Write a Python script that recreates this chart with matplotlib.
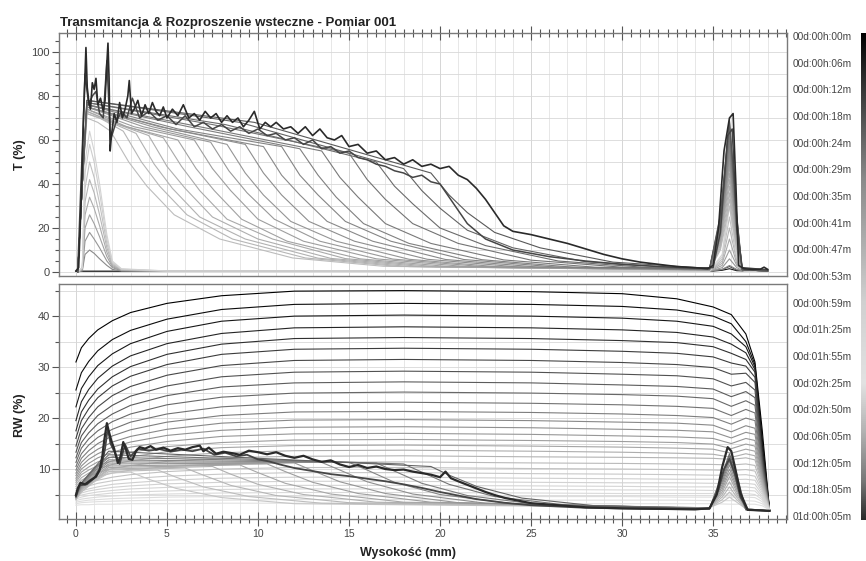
import numpy as np
import matplotlib
matplotlib.use('Agg')
import matplotlib.pyplot as plt
from matplotlib.colors import LinearSegmentedColormap
from matplotlib.ticker import MultipleLocator

plt.rcParams['font.family'] = ['Liberation Sans', 'DejaVu Sans']

# ---------------- data ----------------
time_labels = ['00d:00h:00m', '00d:00h:06m', '00d:00h:12m', '00d:00h:18m', '00d:00h:24m',
               '00d:00h:29m', '00d:00h:35m', '00d:00h:41m', '00d:00h:47m', '00d:00h:53m',
               '00d:00h:59m', '00d:01h:25m', '00d:01h:55m', '00d:02h:25m', '00d:02h:50m',
               '00d:06h:05m', '00d:12h:05m', '00d:18h:05m', '01d:00h:05m']

# T (%) - early flat scans
t_flat_x = [0, 34.8, 35.5, 35.9, 36.3, 38]
t_flat_y = [[0.3, 0.3, 0.8, 1.5, 0.6, 0.3],
            [0.4, 0.4, 1.2, 2.5, 0.9, 0.3]]

# T (%) - light narrow peaks at the bottom of the cell
t_low_x = [0.1, 0.35, 0.5, 0.75, 1.0, 1.3, 1.7, 2.0, 2.5, 5, 34.8, 35.5, 35.9, 36.3, 36.7, 38]
t_low_y = [[0, 0.5, 8, 10, 8.5, 6, 3, 1.2, 0.5, 0.3, 0.3, 1.2, 3, 1.2, 0.3, 0.3],
           [0, 1, 14, 18, 15, 11, 5, 2, 0.6, 0.3, 0.3, 2, 6, 2, 0.3, 0.3],
           [0, 1, 20, 26, 22, 16, 7, 2.5, 0.8, 0.3, 0.3, 3, 10, 3, 0.4, 0.3],
           [0, 1.5, 26, 34, 29, 21, 9, 3, 0.9, 0.4, 0.4, 4, 15, 4, 0.4, 0.3],
           [0, 1.5, 32, 42, 36, 26, 11, 3.5, 1, 0.4, 0.4, 5, 20, 5, 0.5, 0.3],
           [0, 2, 38, 50, 43, 31, 13, 4, 1.2, 0.4, 0.4, 6, 25, 6, 0.5, 0.3],
           [0, 2, 45, 58, 50, 36, 15, 4.5, 1.3, 0.5, 0.5, 7, 30, 7, 0.5, 0.3],
           [0, 2, 50, 64, 55, 40, 17, 5, 1.5, 0.5, 0.5, 8, 35, 8, 0.5, 0.3]]

# T (%) - clarification fronts moving up the cell
t_front_x = [
    [0.1, 0.35, 0.6, 1.2, 1.9, 2.9, 3.9, 5.4, 7.9, 11.9, 16.9, 34.8, 35.4, 35.9, 36.3, 36.6, 38],
    [0.1, 0.35, 0.6, 1.3, 2.6, 3.6, 4.6, 6.1, 8.6, 12.6, 17.6, 34.8, 35.4, 35.9, 36.3, 36.6, 38],
    [0.1, 0.35, 0.6, 1.6, 3.3, 4.3, 5.3, 6.8, 9.3, 13.3, 18.3, 34.8, 35.4, 35.9, 36.3, 36.6, 38],
    [0.1, 0.35, 0.6, 2.0, 4.0, 5.0, 6.0, 7.5, 10.0, 14.0, 19.0, 34.8, 35.4, 35.9, 36.3, 36.6, 38],
    [0.1, 0.35, 0.6, 2.4, 4.8, 5.8, 6.8, 8.3, 10.8, 14.8, 19.8, 34.8, 35.4, 35.9, 36.3, 36.6, 38],
    [0.1, 0.35, 0.6, 2.8, 5.6, 6.6, 7.6, 9.1, 11.6, 15.6, 20.6, 34.8, 35.4, 35.9, 36.3, 36.6, 38],
    [0.1, 0.35, 0.6, 3.2, 6.5, 7.5, 8.5, 10.0, 12.5, 16.5, 21.5, 34.8, 35.4, 35.9, 36.3, 36.6, 38],
    [0.1, 0.35, 0.6, 3.7, 7.4, 8.4, 9.4, 10.9, 13.4, 17.4, 22.4, 34.8, 35.4, 35.9, 36.3, 36.6, 38],
    [0.1, 0.35, 0.6, 4.2, 8.3, 9.3, 10.3, 11.8, 14.3, 18.3, 23.3, 34.8, 35.4, 35.9, 36.3, 36.6, 38],
    [0.1, 0.35, 0.6, 4.6, 9.3, 10.3, 11.3, 12.8, 15.3, 19.3, 24.3, 34.8, 35.4, 35.9, 36.3, 36.6, 38],
    [0.1, 0.35, 0.6, 5.2, 10.3, 11.3, 12.3, 13.8, 16.3, 20.3, 25.3, 34.8, 35.4, 35.9, 36.3, 36.6, 38],
    [0.1, 0.35, 0.6, 5.6, 11.3, 12.3, 13.3, 14.8, 17.3, 21.3, 26.3, 34.8, 35.4, 35.9, 36.3, 36.6, 38],
    [0.1, 0.35, 0.6, 6.2, 12.3, 13.3, 14.3, 15.8, 18.3, 22.3, 27.3, 34.8, 35.4, 35.9, 36.3, 36.6, 38],
    [0.1, 0.35, 0.6, 6.8, 13.5, 14.5, 15.5, 17.0, 19.5, 23.5, 28.5, 34.8, 35.4, 35.9, 36.3, 36.6, 38],
    [0.1, 0.35, 0.6, 7.5, 15.0, 16.0, 17.0, 18.5, 21.0, 25.0, 30.0, 34.8, 35.4, 35.9, 36.3, 36.6, 38],
    [0.1, 0.35, 0.6, 8.2, 16.5, 17.5, 18.5, 20.0, 22.5, 26.5, 31.5, 34.8, 35.4, 35.9, 36.3, 36.6, 38],
    [0.1, 0.35, 0.6, 9.0, 18.0, 19.0, 20.0, 21.5, 24.0, 28.0, 33.0, 34.8, 35.4, 35.9, 36.3, 36.6, 38],
    [0.1, 0.35, 0.6, 9.8, 19.5, 20.5, 21.5, 23.0, 25.5, 29.5, 34.5, 34.8, 35.4, 35.9, 36.3, 36.6, 38]]
t_front_y = [
    [0, 40, 70, 68, 64, 50, 39, 26, 15, 6.4, 2.6, 0.8, 10, 30, 10, 1, 0.5],
    [0, 40, 72, 70, 64, 50, 39, 26, 15, 6.4, 2.6, 0.8, 11, 33, 11, 1, 0.5],
    [0, 40, 72, 69, 63, 49, 38, 25, 15, 6.3, 2.5, 0.9, 12, 36, 12, 1, 0.5],
    [0, 40, 73, 68, 62, 48, 38, 25, 15, 6.2, 2.5, 0.9, 13, 39, 13, 1, 0.5],
    [0, 40, 73, 67, 61, 48, 37, 24, 15, 6.1, 2.4, 1.0, 14, 42, 14, 1, 0.5],
    [0, 40, 74, 66, 60, 47, 37, 24, 14, 6.0, 2.4, 1.0, 15, 45, 15, 1, 0.5],
    [0, 40, 74, 66, 60, 47, 37, 24, 14, 6.0, 2.4, 1.0, 16, 48, 16, 1, 0.5],
    [0, 40, 75, 66, 59, 46, 36, 24, 14, 5.9, 2.4, 1.0, 17, 50, 17, 1, 0.5],
    [0, 40, 75, 66, 58, 45, 35, 23, 14, 5.8, 2.3, 1.1, 18, 52, 18, 1, 0.5],
    [0, 40, 75, 66, 58, 45, 35, 23, 14, 5.8, 2.3, 1.1, 18, 54, 18, 1, 0.5],
    [0, 40, 75, 65, 57, 44, 35, 23, 14, 5.7, 2.3, 1.2, 19, 56, 19, 1, 0.5],
    [0, 40, 76, 65, 57, 44, 35, 23, 14, 5.7, 2.3, 1.2, 20, 58, 20, 1, 0.5],
    [0, 40, 76, 66, 56, 44, 34, 22, 13, 5.6, 2.2, 1.2, 21, 60, 21, 1, 0.5],
    [0, 40, 76, 66, 55, 43, 34, 22, 13, 5.5, 2.2, 1.2, 22, 62, 22, 1, 0.5],
    [0, 40, 77, 67, 54, 42, 33, 22, 13, 5.4, 2.2, 1.3, 23, 64, 23, 1, 0.5],
    [0, 40, 77, 67, 50, 39, 31, 20, 12, 5.0, 2.0, 1.3, 24, 66, 24, 1, 0.5],
    [0, 40, 78, 68, 47, 37, 29, 19, 11, 4.7, 1.9, 1.4, 25, 68, 25, 1, 0.5],
    [0, 40, 78, 68, 45, 35, 27, 18, 11, 4.5, 1.8, 1.5, 26, 69, 26, 1, 0.5]]

# T (%) - last two (noisy) scans
t_late2_x = [0.1, 0.3, 0.5, 0.7, 0.9, 1.1, 1.3, 1.5, 1.7, 1.9,
             2.2, 2.5, 2.8, 3.1, 3.5, 4.0, 4.5, 5.0, 5.5, 6.0,
             6.5, 7.0, 7.5, 8.0, 8.5, 9.0, 9.5, 10.0, 10.5, 11.0,
             11.5, 12.0, 12.5, 13.0, 13.5, 14.0, 14.5, 15.0, 15.5, 16.0,
             16.5, 17.0, 17.5, 18.0, 18.5, 19.0, 19.5, 20.0, 20.5, 21.0,
             21.5, 22.5, 24.0, 26.0, 28.0, 30.0, 32.0, 34.0, 35.0, 35.4,
             35.8, 36.05, 36.3, 36.6, 38.0]
t_late2_y = [1, 45, 90, 76, 80, 82, 72, 70, 96, 60,
             68, 73, 70, 79, 70, 73, 69, 71, 67, 71,
             66, 68, 65, 67, 64, 66, 63, 65, 62, 63,
             60, 61, 58, 60, 56, 57, 54, 55, 52, 51,
             49, 48, 46, 45, 43, 44, 41, 40, 34, 28,
             22, 15, 10, 7, 5, 3.5, 2.5, 1.8, 2, 18,
             62, 65, 20, 2, 1]
t_last_x = [0.0, 0.15, 0.3, 0.42, 0.5, 0.55, 0.62, 0.7, 0.8, 0.9,
            1.0, 1.1, 1.2, 1.35, 1.5, 1.6, 1.7, 1.76, 1.82, 1.88,
            1.95, 2.1, 2.25, 2.4, 2.55, 2.7, 2.85, 2.93, 3.05, 3.2,
            3.4, 3.6, 3.8, 4.0, 4.2, 4.4, 4.6, 4.8, 5.0, 5.3,
            5.6, 5.9, 6.2, 6.5, 6.8, 7.1, 7.4, 7.7, 8.0, 8.3,
            8.6, 8.9, 9.2, 9.5, 9.8, 10.1, 10.4, 10.7, 11.0, 11.4,
            11.8, 12.2, 12.6, 13.0, 13.4, 13.8, 14.2, 14.6, 15.0, 15.5,
            16.0, 16.5, 17.0, 17.5, 18.0, 18.5, 19.0, 19.5, 20.0, 20.5,
            21.0, 21.5, 22.0, 22.5, 23.0, 23.5, 24.0, 25.0, 26.0, 27.0,
            28.0, 29.0, 30.0, 31.0, 32.0, 33.0, 34.0, 34.7, 35.0, 35.3,
            35.6, 35.9, 36.1, 36.25, 36.4, 36.7, 37.2, 37.6, 37.8, 38.0]
t_last_y = [0.5, 2, 35, 70, 90, 102, 84, 78, 74, 86,
            83, 88, 76, 79, 73, 78, 95, 104, 88, 55,
            62, 72, 68, 77, 70, 74, 80, 87, 72, 74,
            78, 71, 76, 72, 77, 73, 71, 75, 70, 74,
            71, 76, 70, 72, 69, 73, 70, 72, 68, 71,
            68, 70, 66, 69, 73, 65, 68, 66, 68, 65,
            66, 63, 66, 62, 65, 61, 60, 62, 57, 58,
            54, 55, 51, 52, 49, 51, 48, 49, 47, 48,
            44, 42, 38, 33, 27, 21, 18.5, 17, 15, 13,
            10.5, 8, 6, 4.5, 3.5, 2.5, 2, 1.5, 3, 20,
            55, 70, 72, 40, 3, 1.5, 1.2, 1.3, 2.2, 1.2]

# RW (%) - backscattering decreasing with time, common height grid
rw_x = [0, 0.3, 0.7, 1.2, 2, 3, 5, 8, 12, 18, 25, 30, 33, 35, 36.0, 36.8, 37.3, 37.7, 38.1]
rw_rows = [
    [31, 33.8, 35.6, 37.3, 39.1, 40.7, 42.5, 44.0, 44.9, 45.0, 44.8, 44.4, 43.4, 41.8, 40.3, 36.5, 31, 17.6, 2],
    [25.5, 28.9, 31.1, 33.2, 35.4, 37.2, 39.4, 41.3, 42.3, 42.5, 42.3, 41.9, 41.2, 40, 38.5, 35, 30.5, 16, 2],
    [22.2, 25.8, 28.1, 30.3, 32.6, 34.6, 37.0, 39.0, 40.0, 40.2, 40.0, 39.6, 39, 38, 36.5, 34, 30, 15, 2],
    [19.5, 23.2, 25.6, 27.8, 30.2, 32.2, 34.6, 36.6, 37.7, 37.9, 37.7, 37.3, 36.8, 35.9, 34.5, 32.8, 29.5, 14, 2],
    [17.5, 21.2, 23.5, 25.7, 28.1, 30.1, 32.5, 34.5, 35.6, 35.8, 35.6, 35.2, 34.8, 34, 32.7, 31.5, 29, 13, 2],
    [16, 19.5, 21.8, 24.0, 26.3, 28.2, 30.5, 32.5, 33.5, 33.7, 33.5, 33.1, 32.7, 32, 30.8, 30.2, 28, 12.5, 2],
    [14.5, 17.9, 20.1, 22.2, 24.4, 26.2, 28.4, 30.3, 31.3, 31.5, 31.3, 30.9, 30.5, 29.9, 28.6, 28.8, 27, 12, 2],
    [13.3, 16.5, 18.5, 20.5, 22.5, 24.3, 26.3, 28.1, 29.0, 29.2, 29.0, 28.6, 28.3, 27.7, 26.3, 27, 25.5, 11.5, 2],
    [12.2, 15.2, 17.1, 18.9, 20.8, 22.5, 24.4, 26.1, 26.9, 27.1, 26.9, 26.5, 26.2, 25.7, 24.2, 25.2, 24, 11, 2],
    [11.3, 14.1, 15.9, 17.5, 19.3, 20.8, 22.6, 24.1, 24.9, 25.1, 24.9, 24.6, 24.3, 23.8, 22.3, 23.4, 22.5, 10.5, 2],
    [10.5, 13.0, 14.7, 16.2, 17.8, 19.2, 20.8, 22.2, 23.0, 23.1, 22.9, 22.6, 22.3, 21.9, 20.5, 21.7, 21, 10, 2],
    [9.8, 12.1, 13.6, 15.0, 16.5, 17.7, 19.2, 20.5, 21.2, 21.3, 21.1, 20.8, 20.5, 20.1, 18.8, 20, 19.5, 9.5, 2],
    [9.2, 11.3, 12.7, 13.9, 15.3, 16.4, 17.8, 19.0, 19.6, 19.7, 19.5, 19.2, 19, 18.6, 17.3, 18.5, 18, 9, 2],
    [8.7, 10.6, 11.9, 13.0, 14.3, 15.3, 16.6, 17.6, 18.2, 18.3, 18.1, 17.8, 17.6, 17.3, 16.1, 17.2, 16.8, 8.7, 2],
    [8.2, 10.0, 11.1, 12.2, 13.3, 14.3, 15.4, 16.4, 16.9, 17.0, 16.8, 16.5, 16.3, 16, 15, 16, 15.6, 8.4, 2],
    [7.8, 9.4, 10.4, 11.4, 12.4, 13.3, 14.4, 15.2, 15.7, 15.8, 15.6, 15.4, 15.2, 14.9, 14, 14.9, 14.5, 8, 2],
    [7.4, 8.9, 9.8, 10.7, 11.6, 12.4, 13.4, 14.2, 14.6, 14.7, 14.5, 14.3, 14.1, 13.9, 13.1, 13.9, 13.5, 7.7, 2],
    [7.0, 8.3, 9.2, 10.0, 10.9, 11.6, 12.5, 13.2, 13.6, 13.7, 13.5, 13.3, 13.1, 12.9, 12.3, 13, 12.6, 7.4, 2],
    [6.6, 7.8, 8.6, 9.3, 10.1, 10.7, 11.5, 12.2, 12.5, 12.6, 12.4, 12.3, 12.2, 12.1, 11.9, 12.2, 11.8, 7, 2],
    [6.2, 7.2, 7.9, 8.5, 9.2, 9.8, 10.5, 11.0, 11.3, 11.4, 11.2, 11.1, 11, 10.9, 10.8, 11, 10.7, 6.6, 2],
    [5.8, 6.7, 7.3, 7.8, 8.4, 8.9, 9.5, 10.0, 10.3, 10.3, 10.1, 10.0, 9.9, 9.8, 9.7, 9.9, 9.6, 6.2, 2],
    [5.4, 6.2, 6.7, 7.2, 7.7, 8.1, 8.6, 9.0, 9.3, 9.3, 9.1, 9.0, 8.9, 8.8, 8.8, 8.9, 8.6, 5.8, 2],
    [5.0, 5.7, 6.1, 6.5, 7.0, 7.3, 7.8, 8.2, 8.4, 8.4, 8.2, 8.1, 8.0, 8.0, 7.9, 8.0, 7.8, 5.4, 2],
    [4.7, 5.3, 5.7, 6.0, 6.4, 6.7, 7.1, 7.4, 7.6, 7.6, 7.4, 7.3, 7.3, 7.2, 7.1, 7.2, 7.0, 5.0, 2],
    [4.4, 4.9, 5.2, 5.5, 5.8, 6.1, 6.4, 6.6, 6.8, 6.8, 6.7, 6.6, 6.5, 6.5, 6.4, 6.5, 6.3, 4.6, 2],
    [4.1, 4.5, 4.8, 5.0, 5.3, 5.5, 5.7, 6.0, 6.1, 6.1, 6.0, 5.9, 5.9, 5.8, 5.8, 5.8, 5.7, 4.3, 2],
    [3.8, 4.1, 4.3, 4.5, 4.7, 4.9, 5.1, 5.3, 5.4, 5.4, 5.3, 5.2, 5.2, 5.2, 5.1, 5.2, 5.0, 4.0, 2],
    [3.5, 3.7, 3.9, 4.0, 4.2, 4.3, 4.5, 4.6, 4.7, 4.7, 4.6, 4.6, 4.5, 4.5, 4.5, 4.5, 4.4, 3.6, 2],
    [3.2, 3.4, 3.5, 3.6, 3.7, 3.8, 3.9, 3.9, 4.0, 4.0, 3.9, 3.9, 3.9, 3.8, 3.8, 3.8, 3.7, 3.2, 2],
    [2.9, 3.0, 3.0, 3.1, 3.1, 3.2, 3.2, 3.3, 3.3, 3.3, 3.2, 3.2, 3.2, 3.2, 3.1, 3.1, 3.1, 2.8, 2]]

# RW (%) - late scans with a front
rw_front_x = [
    [0, 0.3, 1.0, 1.8, 3.0, 4.0, 5.5, 8.0, 12.0, 34.8, 35.5, 35.9, 36.3, 36.8, 38.1],
    [0, 0.3, 1.0, 1.8, 4.5, 5.5, 7.0, 9.5, 13.5, 34.8, 35.5, 35.9, 36.3, 36.8, 38.1],
    [0, 0.3, 1.0, 1.8, 6.0, 7.0, 8.5, 11.0, 15.0, 34.8, 35.5, 35.9, 36.3, 36.8, 38.1],
    [0, 0.3, 1.0, 1.8, 7.5, 8.5, 10.0, 12.5, 16.5, 34.8, 35.5, 35.9, 36.3, 36.8, 38.1],
    [0, 0.3, 1.0, 1.8, 9.0, 10.0, 11.5, 14.0, 18.0, 34.8, 35.5, 35.9, 36.3, 36.8, 38.1],
    [0, 0.3, 1.0, 1.8, 10.5, 11.5, 13.0, 15.5, 19.5, 34.8, 35.5, 35.9, 36.3, 36.8, 38.1],
    [0, 0.3, 1.0, 1.8, 12.0, 13.0, 14.5, 17.0, 21.0, 34.8, 35.5, 35.9, 36.3, 36.8, 38.1],
    [0, 0.3, 1.0, 1.8, 13.5, 14.5, 16.0, 18.5, 22.5, 34.8, 35.5, 35.9, 36.3, 36.8, 38.1],
    [0, 0.3, 1.0, 1.8, 15.0, 16.0, 17.5, 20.0, 24.0, 34.8, 35.5, 35.9, 36.3, 36.8, 38.1],
    [0, 0.3, 1.0, 1.8, 16.5, 17.5, 19.0, 21.5, 25.5, 34.8, 35.5, 35.9, 36.3, 36.8, 38.1],
    [0, 0.3, 1.0, 1.8, 18.0, 19.0, 20.5, 23.0, 27.0, 34.8, 35.5, 35.9, 36.3, 36.8, 38.1],
    [0, 0.3, 1.0, 1.8, 19.5, 20.5, 22.0, 24.5, 28.5, 34.8, 35.5, 35.9, 36.3, 36.8, 38.1]]
rw_front_y = [
    [4.0, 5.5, 7.5, 9.2, 9.4, 8.0, 6.2, 4.4, 3.2, 2.4, 3.5, 4.5, 3.5, 2.2, 1.8],
    [4.0, 5.5, 7.6, 9.5, 9.8, 8.4, 6.5, 4.6, 3.3, 2.4, 4.0, 5.5, 4.0, 2.2, 1.8],
    [4.2, 5.8, 7.8, 9.8, 10.2, 8.8, 6.8, 4.8, 3.4, 2.4, 4.5, 6.5, 4.5, 2.2, 1.8],
    [4.2, 6.0, 8.0, 10.0, 10.5, 9.0, 7.0, 5.0, 3.5, 2.4, 5.0, 7.5, 5.0, 2.2, 1.8],
    [4.3, 6.2, 8.3, 10.3, 10.8, 9.3, 7.2, 5.1, 3.5, 2.4, 5.5, 8.5, 5.5, 2.2, 1.8],
    [4.4, 6.4, 8.6, 10.6, 11.0, 9.5, 7.4, 5.2, 3.5, 2.3, 6.0, 9.3, 6.0, 2.1, 1.8],
    [4.5, 6.6, 8.9, 11.0, 11.2, 9.7, 7.5, 5.2, 3.4, 2.3, 6.5, 10.0, 6.5, 2.1, 1.8],
    [4.6, 6.8, 9.2, 11.4, 11.3, 9.8, 7.5, 5.1, 3.3, 2.3, 7.0, 10.8, 7.0, 2.1, 1.8],
    [4.7, 7.0, 9.5, 11.8, 11.3, 9.8, 7.4, 5.0, 3.2, 2.3, 7.5, 11.5, 7.5, 2.1, 1.8],
    [4.8, 7.1, 9.8, 12.3, 11.2, 9.6, 7.2, 4.8, 3.0, 2.3, 8.0, 12.0, 8.0, 2.1, 1.8],
    [4.9, 7.2, 10.0, 12.8, 11.0, 9.4, 7.0, 4.6, 2.9, 2.2, 8.5, 12.5, 8.5, 2.0, 1.8],
    [5.0, 7.3, 10.2, 13.5, 10.5, 8.8, 6.6, 4.3, 2.8, 2.2, 9.0, 13.0, 9.0, 2.0, 1.8]]

# RW (%) - last two (noisy) scans
rw_late2_x = [0, 0.2, 0.6, 1.0, 1.4, 1.6, 1.75, 1.9, 2.1, 2.4,
              2.7, 3.0, 3.4, 4.0, 4.6, 5.2, 5.8, 6.4, 7.0, 7.6,
              8.2, 8.8, 9.4, 10.0, 10.6, 11.2, 12.0, 13.0, 14.0, 15.0,
              16.0, 17.0, 18.0, 19.0, 20.0, 21.0, 22.0, 23.5, 25.0, 28.0,
              31.0, 34.0, 34.8, 35.3, 35.6, 35.9, 36.2, 36.5, 36.9, 38.1]
rw_late2_y = [4.6, 6.8, 7.0, 8.2, 10.5, 14.0, 18.0, 15.0, 13.5, 11.0,
              14.8, 12.5, 14.0, 13.6, 13.9, 13.4, 13.8, 13.5, 14.0, 12.8,
              13.2, 12.5, 12.8, 11.9, 11.5, 10.9, 10.2, 9.6, 9.0, 8.6,
              8.1, 7.6, 7.0, 6.3, 5.5, 4.8, 4.1, 3.4, 2.9, 2.4,
              2.2, 2.1, 2.2, 6.0, 10.0, 12.0, 9.0, 4.5, 2.0, 1.8]
rw_last_x = [0, 0.1, 0.25, 0.5, 0.8, 1.1, 1.3, 1.45, 1.55, 1.7,
             1.8, 1.95, 2.1, 2.3, 2.45, 2.6, 2.75, 2.9, 3.1, 3.3,
             3.5, 3.8, 4.1, 4.4, 4.8, 5.2, 5.6, 6.0, 6.4, 6.8,
             7.0, 7.3, 7.7, 8.1, 8.6, 9.0, 9.5, 10.0, 10.5, 11.0,
             11.5, 12.0, 12.5, 13.0, 13.5, 14.0, 14.5, 15.0, 15.5, 16.0,
             16.5, 17.0, 17.5, 18.0, 18.5, 19.0, 19.5, 20.0, 20.3, 20.6,
             21.0, 21.5, 22.0, 22.5, 23.0, 23.6, 24.3, 25.0, 26.5, 28.0,
             30.0, 32.0, 34.0, 34.8, 35.2, 35.5, 35.8, 36.0, 36.2, 36.5,
             36.9, 37.5, 38.1]
rw_last_y = [4.9, 6.2, 7.3, 7.0, 7.8, 8.5, 9.8, 12.5, 15.5, 19.0,
             17.5, 15.5, 14.0, 11.2, 12.5, 15.3, 13.8, 12.0, 11.8, 13.5,
             14.3, 14.0, 14.5, 13.8, 14.2, 13.6, 14.1, 13.8, 14.3, 14.6,
             13.5, 14.2, 13.0, 13.4, 13.1, 12.8, 13.6, 13.3, 12.9, 13.3,
             12.6, 12.2, 12.6, 11.9, 11.4, 11.7, 10.9, 10.4, 10.8, 10.2,
             10.5, 10.0, 9.8, 9.9, 9.5, 9.2, 8.9, 8.4, 9.5, 8.2,
             7.6, 6.9, 6.2, 5.5, 4.9, 4.3, 3.8, 3.3, 2.9, 2.5,
             2.3, 2.2, 2.1, 2.3, 5.0, 10.4, 14.3, 13.5, 10.4, 5.3,
             2.0, 1.9, 1.8]

# ---------------- figure ----------------
W, H = 866, 561
fig = plt.figure(figsize=(W / 100, H / 100), dpi=100)


def box(l, t, r, b):
    return [l / W, 1 - b / H, (r - l) / W, (b - t) / H]


ax_t = fig.add_axes(box(59, 33, 787, 276))
ax_r = fig.add_axes(box(59, 284, 787, 519))

cmap = LinearSegmentedColormap.from_list('scan', [
    (0.0, '#000000'), (0.12, '#3a3a3a'), (0.3, '#8a8a8a'), (0.55, '#d0d0d0'),
    (0.72, '#e2e2e2'), (0.82, '#b2b2b2'), (0.92, '#787878'), (1.0, '#2a2a2a')])

lw = 0.8

# transmission
for i, y in enumerate(t_flat_y):
    ax_t.plot(t_flat_x, y, color=cmap(0.05 + 0.1 * i), lw=lw)
for y, c in zip(t_low_y, np.linspace(0.3, 0.58, len(t_low_y))):
    ax_t.plot(t_low_x, y, color=cmap(c), lw=lw)
for x, y, c in zip(t_front_x, t_front_y, np.linspace(0.8, 0.95, len(t_front_x))):
    ax_t.plot(x, y, color=cmap(c), lw=lw)
ax_t.plot(t_late2_x, t_late2_y, color=cmap(0.97), lw=1.1)
ax_t.plot(t_last_x, t_last_y, color=cmap(1.0), lw=1.2)

# backscattering
for y, c in zip(rw_rows, np.linspace(0.0, 0.72, len(rw_rows))):
    ax_r.plot(rw_x, y, color=cmap(c), lw=lw)
for x, y, c in zip(rw_front_x, rw_front_y, np.linspace(0.78, 0.94, len(rw_front_x))):
    ax_r.plot(x, y, color=cmap(c), lw=lw)
ax_r.plot(rw_late2_x, rw_late2_y, color=cmap(0.97), lw=1.3)
ax_r.plot(rw_last_x, rw_last_y, color=cmap(1.0), lw=1.6)

# axes styling
ax_t.set_xlim(-0.93, 39.06)
ax_r.set_xlim(-0.93, 39.06)
ax_t.set_ylim(-1.8, 108.6)
ax_r.set_ylim(0.2, 46.3)

for ax in (ax_t, ax_r):
    for xv in np.arange(0, 39, 1):
        ax.axvline(xv, color='#cfcfcf' if xv % 5 == 0 else '#e3e3e3', lw=0.6, zorder=0)
    for s in ax.spines.values():
        s.set_color('#7a7a7a')
        s.set_linewidth(1.0)
    ax.xaxis.set_major_locator(MultipleLocator(5))
    ax.xaxis.set_minor_locator(MultipleLocator(0.5))
    ax.tick_params(axis='x', which='major', direction='inout', length=10, width=0.8, color='#555555')
    ax.tick_params(axis='x', which='minor', direction='inout', length=6, width=0.8, color='#555555')
    ax.tick_params(axis='y', which='major', direction='out', length=5, width=0.8, color='#555555',
                   labelsize=8, labelcolor='#444444', pad=1.5)
    ax.tick_params(axis='y', which='minor', direction='out', length=3, width=0.8, color='#555555')

for yv in np.arange(0, 101, 10):
    ax_t.axhline(yv, color='#d8d8d8', lw=0.6, zorder=0)
for yv in np.arange(5, 46, 5):
    ax_r.axhline(yv, color='#d8d8d8', lw=0.6, zorder=0)

ax_t.xaxis.set_ticks_position('top')
ax_t.tick_params(axis='x', which='both', labeltop=False, labelbottom=False)
ax_t.yaxis.set_major_locator(MultipleLocator(20))
ax_t.yaxis.set_minor_locator(MultipleLocator(5))

ax_r.xaxis.set_ticks_position('bottom')
ax_r.tick_params(axis='x', which='major', labelsize=7.5, labelcolor='#444444', pad=2)
ax_r.yaxis.set_major_locator(MultipleLocator(10))
ax_r.yaxis.set_minor_locator(MultipleLocator(5))

# texts
fig.text(60 / W, 1 - 23 / H, 'Transmitancja & Rozproszenie wsteczne - Pomiar 001',
         fontsize=9.5, fontweight='bold', color='#222222', va='center', ha='left')
fig.text(20 / W, 1 - 155 / H, 'T (%)', fontsize=9, fontweight='bold', color='#222222',
         rotation=90, va='center', ha='center')
fig.text(20 / W, 1 - 415 / H, 'RW (%)', fontsize=9, fontweight='bold', color='#222222',
         rotation=90, va='center', ha='center')
fig.text(408 / W, 1 - 553 / H, 'Wysokość (mm)', fontsize=9, fontweight='bold', color='#222222',
         va='center', ha='center')

for lab, yp in zip(time_labels, np.linspace(37, 517, len(time_labels))):
    fig.text(793 / W, 1 - yp / H, lab, fontsize=7.3, color='#444444', va='center', ha='left')

# time scale bar
cax = fig.add_axes(box(861, 33, 866, 520))
cax.imshow(np.linspace(0, 1, 256)[:, None], aspect='auto', cmap=cmap)
cax.axis('off')

fig.savefig('out.png', dpi=100)
